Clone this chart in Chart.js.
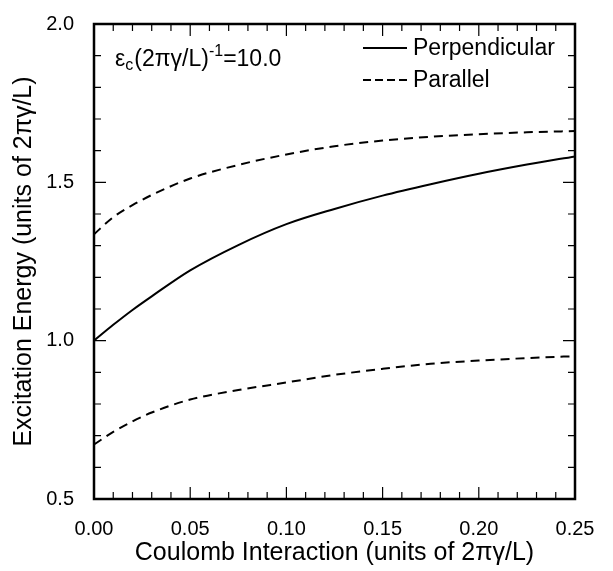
<!DOCTYPE html>
<html>
<head>
<meta charset="utf-8">
<script src="https://cdn.jsdelivr.net/npm/chart.js@4/dist/chart.umd.min.js"></script>
<style>
  body { margin: 0; background: #fff; }
  #wrap { width: 613px; height: 571px; }
</style>
</head>
<body>
<div id="wrap"><canvas id="c"></canvas></div>
<script>
// data
const coulomb = [0, 0.01, 0.02, 0.03, 0.05, 0.075, 0.10, 0.125, 0.15, 0.175, 0.20, 0.225, 0.25];
const perpendicular = [1.000, 1.050, 1.097, 1.140, 1.222, 1.302, 1.368, 1.416, 1.458, 1.494, 1.527, 1.556, 1.582];
const parallelUpper = [1.336, 1.390, 1.428, 1.460, 1.512, 1.555, 1.588, 1.614, 1.632, 1.644, 1.652, 1.658, 1.662];
const parallelLower = [0.672, 0.712, 0.745, 0.773, 0.814, 0.844, 0.868, 0.892, 0.911, 0.927, 0.937, 0.945, 0.951];

const xTicks = [0, 0.05, 0.10, 0.15, 0.20, 0.25];
const yTicks = [0.5, 1.0, 1.5, 2.0];
const legendItems = ["Perpendicular", "Parallel"];

const FONT = '"Liberation Sans", Arial, Helvetica, sans-serif';

function pts(ys) {
    return coulomb.map((x, i) => ({ x: x, y: ys[i] }));
}

// frame, inward ticks, legend and the epsilon label
const decorations = {
    id: 'decorations',
    afterDatasetsDraw(chart) {
        const ctx = chart.ctx;
        const a = chart.chartArea;
        const xs = chart.scales.x, ys = chart.scales.y;
        ctx.save();
        ctx.strokeStyle = '#000';

        // minor ticks every 0.01 / 0.1, major at labelled values
        ctx.lineWidth = 1.2;
        ctx.beginPath();
        for (let i = 0; i <= 25; i++) {
            const v = i / 100;
            const len = (i % 5 === 0) ? 12 : 7;
            const px = xs.getPixelForValue(v);
            ctx.moveTo(px, a.bottom); ctx.lineTo(px, a.bottom - len);
            ctx.moveTo(px, a.top); ctx.lineTo(px, a.top + len);
        }
        for (let i = 5; i <= 20; i++) {
            const v = i / 10;
            const len = (i % 5 === 0) ? 12 : 7;
            const py = ys.getPixelForValue(v);
            ctx.moveTo(a.left, py); ctx.lineTo(a.left + len, py);
            ctx.moveTo(a.right, py); ctx.lineTo(a.right - len, py);
        }
        ctx.stroke();

        ctx.lineWidth = 2.5;
        ctx.strokeRect(a.left, a.top, a.right - a.left, a.bottom - a.top);

        // legend
        ctx.fillStyle = '#000';
        ctx.font = '23px ' + FONT;
        ctx.textBaseline = 'middle';
        const rows = [48, 80];
        legendItems.forEach((label, i) => {
            ctx.lineWidth = 1.8;
            ctx.setLineDash(i === 0 ? [] : [8, 4]);
            ctx.beginPath();
            ctx.moveTo(363, rows[i]);
            ctx.lineTo(407, rows[i]);
            ctx.stroke();
            ctx.setLineDash([]);
            ctx.fillText(label, 413, rows[i] + 1);
        });

        // εc(2πγ/L)^-1=10.0
        let x = 115;
        const base = 66;
        ctx.textBaseline = 'alphabetic';
        ctx.font = '23px ' + FONT;
        ctx.fillText('ε', x, base); x += ctx.measureText('ε').width;
        ctx.font = '16px ' + FONT;
        ctx.fillText('c', x, base + 4); x += ctx.measureText('c').width + 1;
        ctx.font = '23px ' + FONT;
        ctx.fillText('(2πγ/L)', x, base); x += ctx.measureText('(2πγ/L)').width;
        ctx.font = '16px ' + FONT;
        ctx.fillText('-1', x, base - 10); x += ctx.measureText('-1').width;
        ctx.font = '23px ' + FONT;
        ctx.fillText('=10.0', x, base);
        ctx.restore();
    }
};

new Chart(document.getElementById('c'), {
    type: 'scatter',
    data: {
        datasets: [
            { label: 'Perpendicular', data: pts(perpendicular), borderDash: [] },
            { label: 'Parallel', data: pts(parallelUpper), borderDash: [9, 6] },
            { label: 'Parallel', data: pts(parallelLower), borderDash: [9, 6] }
        ].map(d => Object.assign(d, {
            showLine: true,
            borderColor: '#000',
            borderWidth: 2,
            pointRadius: 0,
            cubicInterpolationMode: 'monotone',
            fill: false
        }))
    },
    options: {
        responsive: true,
        maintainAspectRatio: false,
        animation: false,
        layout: { padding: { left: 0, top: 16, right: 38, bottom: 0 } },
        plugins: { legend: { display: false }, tooltip: { enabled: false } },
        scales: {
            x: {
                type: 'linear',
                min: 0, max: 0.25,
                afterBuildTicks: s => { s.ticks = xTicks.map(v => ({ value: v })); },
                afterFit: s => { s.height = 72; },
                grid: { display: false },
                border: { display: false },
                ticks: {
                    padding: 10,
                    color: '#000',
                    font: { family: FONT, size: 20 },
                    callback: v => Number(v).toFixed(2)
                },
                title: {
                    display: true,
                    text: 'Coulomb Interaction (units of 2πγ/L)',
                    color: '#000',
                    font: { family: FONT, size: 25, lineHeight: 1.2 },
                    padding: { top: 0, bottom: 3 }
                }
            },
            y: {
                min: 0.5, max: 2.0,
                afterBuildTicks: s => { s.ticks = yTicks.map(v => ({ value: v })); },
                afterFit: s => { s.width = 94; },
                grid: { display: false },
                border: { display: false },
                ticks: {
                    padding: 12,
                    color: '#000',
                    font: { family: FONT, size: 20 },
                    callback: v => Number(v).toFixed(1)
                },
                title: {
                    display: true,
                    text: 'Excitation Energy (units of 2πγ/L)',
                    color: '#000',
                    font: { family: FONT, size: 25, lineHeight: 1.2 },
                    padding: { top: 9, bottom: 0 }
                }
            }
        }
    },
    plugins: [decorations]
});
</script>
</body>
</html>
